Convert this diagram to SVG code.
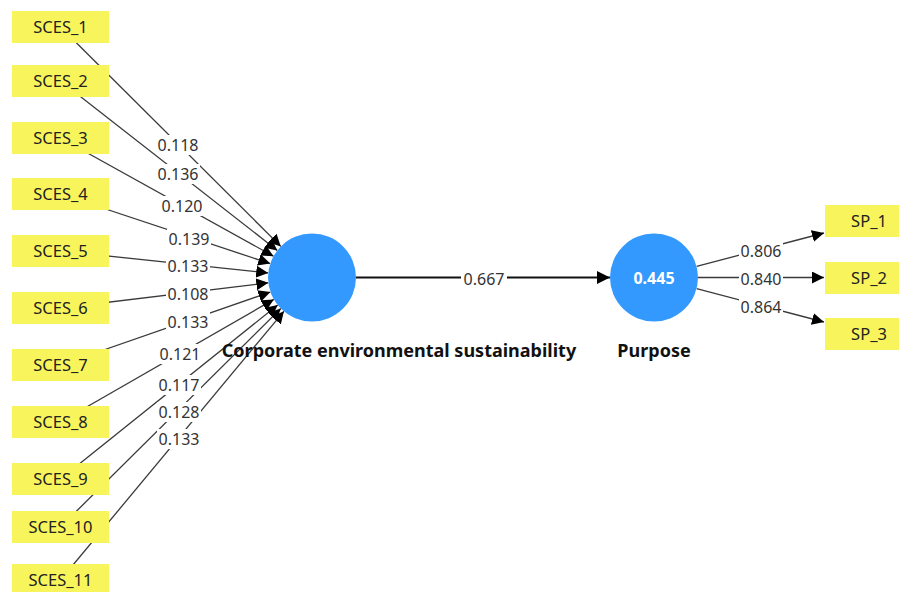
<svg xmlns="http://www.w3.org/2000/svg" width="899" height="592" viewBox="0 0 899 592">
<style>
.box{fill:#F8F55C;}
.ind{font-family:"Segoe UI","Noto Sans","Liberation Sans",sans-serif;font-size:16.5px;fill:#222;text-anchor:middle;}
.lbl{font-family:"Segoe UI","Noto Sans","Liberation Sans",sans-serif;font-size:16px;fill:#333;text-anchor:middle;}
.lblbg{fill:#fff;}
.edge{stroke:#3a3a3a;stroke-width:1.3;fill:none;marker-end:url(#ah);}
.path{stroke:#111;stroke-width:2.2;fill:none;marker-end:url(#ah2);}
.lv{fill:#3399FF;}
.title{font-family:"Segoe UI","Noto Sans","Liberation Sans",sans-serif;font-weight:bold;font-size:18px;fill:#111;text-anchor:middle;}
.val{font-family:"Segoe UI","Noto Sans","Liberation Sans",sans-serif;font-weight:bold;font-size:16px;fill:#fff;text-anchor:middle;}
</style>
<defs>
<marker id="ah" markerUnits="userSpaceOnUse" markerWidth="12" markerHeight="12" refX="12" refY="6" orient="auto">
<path d="M0,0 L12,6 L0,12 z" fill="#000"/>
</marker>
<marker id="ah2" markerUnits="userSpaceOnUse" markerWidth="13" markerHeight="13" refX="13" refY="6.5" orient="auto">
<path d="M0,0 L13,6.5 L0,13 z" fill="#000"/>
</marker>
</defs>
<rect width="899" height="592" fill="#fff"/>
<g id="connectors">
<line class="edge" x1="60.5" y1="27" x2="280.8" y2="246.4"/>
<line class="edge" x1="60.5" y1="81" x2="277.3" y2="250.4"/>
<line class="edge" x1="60.5" y1="138" x2="273.5" y2="256.2"/>
<line class="edge" x1="60.5" y1="194" x2="270.2" y2="263.6"/>
<line class="edge" x1="60.5" y1="251" x2="268.2" y2="272.9"/>
<line class="edge" x1="60.5" y1="308" x2="268.3" y2="282.8"/>
<line class="edge" x1="60.5" y1="365" x2="270.4" y2="292.0"/>
<line class="edge" x1="60.5" y1="422" x2="273.8" y2="299.4"/>
<line class="edge" x1="60.5" y1="479" x2="277.7" y2="305.0"/>
<line class="edge" x1="60.5" y1="527" x2="280.8" y2="308.5"/>
<line class="edge" x1="60.5" y1="580" x2="283.9" y2="311.3"/>
<line class="path" x1="356" y1="277.5" x2="610" y2="277.5"/>
<line class="edge" x1="696.6" y1="266.3" x2="824" y2="233"/>
<line class="edge" x1="698" y1="277.5" x2="824" y2="277.5"/>
<line class="edge" x1="696.6" y1="288.7" x2="824" y2="322"/>
<g id="edge-labels">
<rect class="lblbg" x="156" y="135" width="44" height="20"/><text class="lbl" x="178" y="151">0.118</text>
<rect class="lblbg" x="156" y="164" width="44" height="20"/><text class="lbl" x="178" y="180">0.136</text>
<rect class="lblbg" x="160" y="196" width="44" height="20"/><text class="lbl" x="182" y="212">0.120</text>
<rect class="lblbg" x="167" y="229" width="44" height="20"/><text class="lbl" x="189" y="245">0.139</text>
<rect class="lblbg" x="166" y="256" width="44" height="20"/><text class="lbl" x="188" y="272">0.133</text>
<rect class="lblbg" x="166" y="284" width="44" height="20"/><text class="lbl" x="188" y="300">0.108</text>
<rect class="lblbg" x="166" y="312" width="44" height="20"/><text class="lbl" x="188" y="328">0.133</text>
<rect class="lblbg" x="158" y="344" width="44" height="20"/><text class="lbl" x="180" y="360">0.121</text>
<rect class="lblbg" x="157" y="375" width="44" height="20"/><text class="lbl" x="179" y="391">0.117</text>
<rect class="lblbg" x="157" y="402" width="44" height="20"/><text class="lbl" x="179" y="418">0.128</text>
<rect class="lblbg" x="157" y="429" width="44" height="20"/><text class="lbl" x="179" y="445">0.133</text>
<rect class="lblbg" x="461" y="269" width="46" height="20"/><text class="lbl" x="484" y="285">0.667</text>
<rect class="lblbg" x="739" y="241" width="44" height="20"/><text class="lbl" x="761" y="257">0.806</text>
<rect class="lblbg" x="739" y="269" width="44" height="20"/><text class="lbl" x="761" y="285">0.840</text>
<rect class="lblbg" x="739" y="297" width="44" height="20"/><text class="lbl" x="761" y="313">0.864</text>
</g>
</g>
<g id="SCES_1"><rect class="box" x="12" y="11" width="97" height="32"/><text class="ind" x="60.5" y="33">SCES_1</text></g>
<g id="SCES_2"><rect class="box" x="12" y="65" width="97" height="32"/><text class="ind" x="60.5" y="87">SCES_2</text></g>
<g id="SCES_3"><rect class="box" x="12" y="122" width="97" height="32"/><text class="ind" x="60.5" y="144">SCES_3</text></g>
<g id="SCES_4"><rect class="box" x="12" y="178" width="97" height="32"/><text class="ind" x="60.5" y="200">SCES_4</text></g>
<g id="SCES_5"><rect class="box" x="12" y="235" width="97" height="32"/><text class="ind" x="60.5" y="257">SCES_5</text></g>
<g id="SCES_6"><rect class="box" x="12" y="292" width="97" height="32"/><text class="ind" x="60.5" y="314">SCES_6</text></g>
<g id="SCES_7"><rect class="box" x="12" y="349" width="97" height="32"/><text class="ind" x="60.5" y="371">SCES_7</text></g>
<g id="SCES_8"><rect class="box" x="12" y="406" width="97" height="32"/><text class="ind" x="60.5" y="428">SCES_8</text></g>
<g id="SCES_9"><rect class="box" x="12" y="463" width="97" height="32"/><text class="ind" x="60.5" y="485">SCES_9</text></g>
<g id="SCES_10"><rect class="box" x="12" y="511" width="97" height="32"/><text class="ind" x="60.5" y="533">SCES_10</text></g>
<g id="SCES_11"><rect class="box" x="12" y="564" width="97" height="32"/><text class="ind" x="60.5" y="586">SCES_11</text></g>
<g id="CES"><circle class="lv" cx="312" cy="277.5" r="44"/><text class="title" x="399" y="357">Corporate environmental sustainability</text></g>
<g id="Purpose"><circle class="lv" cx="654" cy="277.5" r="44"/><text class="val" x="654" y="284">0.445</text><text class="title" x="654" y="357">Purpose</text></g>
<g id="SP_1"><rect class="box" x="825" y="205" width="90" height="32"/><text class="ind" x="869" y="227">SP_1</text></g>
<g id="SP_2"><rect class="box" x="825" y="262" width="90" height="32"/><text class="ind" x="869" y="284">SP_2</text></g>
<g id="SP_3"><rect class="box" x="825" y="318" width="90" height="32"/><text class="ind" x="869" y="340">SP_3</text></g>
</svg>
